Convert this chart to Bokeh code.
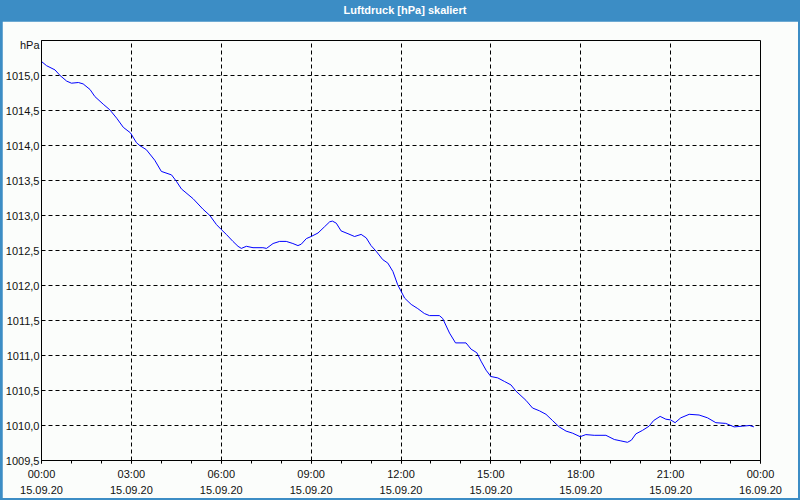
from bokeh.plotting import figure
from bokeh.models import FixedTicker, LinearAxis, Div, Column, Range1d, Grid
from bokeh.embed import file_html
from bokeh.resources import INLINE

# ---- data (hours after 15.09.20 00:00, pressure hPa) ----
hours = [0.0, 0.17, 0.45, 0.62, 0.84, 1.0, 1.23, 1.39, 1.62, 1.78, 2.06, 2.28, 2.51, 2.73, 2.97,
         3.17, 3.28, 3.5, 3.78, 4.0, 4.34, 4.5, 4.67, 5.06, 5.39, 5.62, 5.84, 6.0, 6.17, 6.39,
         6.56, 6.67, 6.84, 7.06, 7.39, 7.51, 7.73, 7.95, 8.17, 8.39, 8.56, 8.67, 8.84, 9.0,
         9.23, 9.45, 9.62, 9.71, 9.84, 10.0, 10.23, 10.45, 10.67, 10.84, 11.0, 11.17, 11.39,
         11.56, 11.73, 11.89, 12.0, 12.12, 12.34, 12.56, 12.78, 12.95, 13.28, 13.39, 13.62,
         13.82, 14.17, 14.34, 14.53, 14.67, 14.84, 15.0, 15.23, 15.45, 15.67, 15.84, 16.17,
         16.39, 16.62, 16.84, 17.06, 17.28, 17.51, 17.73, 17.98, 18.17, 18.45, 18.84, 19.12,
         19.34, 19.56, 19.69, 19.84, 20.06, 20.28, 20.43, 20.65, 20.84, 21.0, 21.15, 21.34,
         21.62, 21.95, 22.23, 22.51, 22.84, 23.12, 23.39, 23.64, 23.78]
pressure = [1015.20, 1015.14, 1015.08, 1015.00, 1014.92, 1014.89, 1014.90, 1014.88, 1014.80,
            1014.70, 1014.59, 1014.51, 1014.39, 1014.26, 1014.18, 1014.04, 1014.00, 1013.94,
            1013.79, 1013.63, 1013.58, 1013.49, 1013.38, 1013.24, 1013.09, 1013.00, 1012.87,
            1012.80, 1012.73, 1012.63, 1012.56, 1012.53, 1012.56, 1012.54, 1012.54, 1012.53,
            1012.60, 1012.63, 1012.63, 1012.60, 1012.57, 1012.59, 1012.67, 1012.70, 1012.75,
            1012.84, 1012.91, 1012.92, 1012.89, 1012.78, 1012.74, 1012.70, 1012.73, 1012.68,
            1012.57, 1012.49, 1012.37, 1012.32, 1012.20, 1012.01, 1011.92, 1011.82, 1011.73,
            1011.67, 1011.60, 1011.57, 1011.57, 1011.53, 1011.32, 1011.18, 1011.18, 1011.09,
            1011.04, 1010.92, 1010.79, 1010.70, 1010.68, 1010.63, 1010.58, 1010.49, 1010.36,
            1010.25, 1010.21, 1010.16, 1010.07, 1009.98, 1009.92, 1009.89, 1009.84, 1009.87,
            1009.86, 1009.86, 1009.80, 1009.78, 1009.76, 1009.79, 1009.88, 1009.93, 1009.99,
            1010.07, 1010.13, 1010.09, 1010.08, 1010.04, 1010.11, 1010.16, 1010.15, 1010.11,
            1010.04, 1010.03, 1009.98, 1009.99, 1010.00, 1009.98]

x_ticks = [0, 3, 6, 9, 12, 15, 18, 21, 24]
x_time_labels = ["00:00", "03:00", "06:00", "09:00", "12:00", "15:00", "18:00", "21:00", "00:00"]
x_date_labels = ["15.09.20"] * 8 + ["16.09.20"]
y_ticks = [1009.5, 1010.0, 1010.5, 1011.0, 1011.5, 1012.0, 1012.5, 1013.0, 1013.5, 1014.0,
           1014.5, 1015.0]
y_labels = ["1009,5", "1010,0", "1010,5", "1011,0", "1011,5", "1012,0", "1012,5", "1013,0",
            "1013,5", "1014,0", "1014,5", "1015,0"]
y_min, y_max = 1009.5, 1015.5
title_text = "Luftdruck [hPa] skaliert"
unit_text = "hPa"

FONT = "Liberation Sans"
BG = "#fbfdfb"
BLUE = "#3c8dc5"

p = figure(width=796, height=477, output_backend="svg", toolbar_location=None,
           x_range=Range1d(0, 24), y_range=Range1d(y_min, y_max),
           x_axis_location=None, y_axis_location=None,
           min_border_left=38, min_border_right=38, min_border_top=19, min_border_bottom=38,
           background_fill_color=BG, border_fill_color=BG, margin=(0, 2, 2, 2))
for g in p.grid:
    g.visible = False

p.outline_line_color = "black"
p.outline_line_width = 1

p.line(hours, pressure, line_color="#0000ff", line_width=1)

# axes
xt = FixedTicker(ticks=x_ticks, minor_ticks=list(range(0, 25)))
ax1 = LinearAxis(ticker=xt)
ax1.major_label_overrides = {t: s for t, s in zip(x_ticks, x_time_labels)}
ax2 = LinearAxis(ticker=FixedTicker(ticks=x_ticks))
ax2.major_label_overrides = {t: s for t, s in zip(x_ticks, x_date_labels)}
for ax in (ax1, ax2):
    ax.major_label_text_font = FONT
    ax.major_label_text_font_size = "11px"
    ax.major_label_text_color = "#111111"
ax1.axis_line_color = "black"
ax1.major_tick_out = 3
ax1.major_tick_in = 0
ax1.minor_tick_out = 3
ax1.minor_tick_in = 0
ax1.major_label_standoff = 4
ax2.axis_line_color = None
ax2.major_tick_line_color = None
ax2.minor_tick_line_color = None
ax2.major_tick_out = 0
ax2.major_tick_in = 0
ax2.minor_tick_out = 0
ax2.major_label_standoff = 3
p.add_layout(ax1, "below")
p.add_layout(ax2, "below")

# y axis: numeric labels plus the unit just below the top edge
unit_pos = y_max - 0.07
ay = LinearAxis(ticker=FixedTicker(ticks=y_ticks + [unit_pos]))
overrides = {t: s for t, s in zip(y_ticks, y_labels)}
overrides[unit_pos] = unit_text
ay.major_label_overrides = overrides
ay.major_label_text_font = FONT
ay.major_label_text_font_size = "11px"
ay.major_label_text_color = "#111111"
ay.major_tick_out = 0
ay.major_tick_in = 0
ay.major_tick_line_color = None
ay.minor_tick_line_color = None
ay.axis_line_color = "black"
ay.major_label_standoff = 2
p.add_layout(ay, "left")

# grids
gx = Grid(dimension=0, ticker=FixedTicker(ticks=x_ticks[1:-1]))
gy = Grid(dimension=1, ticker=FixedTicker(ticks=y_ticks[1:]))
for g in (gx, gy):
    g.grid_line_color = "black"
    g.grid_line_dash = "4 3"
    g.grid_line_width = 1
p.add_layout(gx, "center")
p.add_layout(gy, "center")

title = Div(text=title_text, width=800, height=21, margin=0,
            styles={"background-color": BLUE, "color": "white", "font-weight": "bold",
                    "font-family": FONT, "font-size": "11px", "text-align": "center",
                    "line-height": "21px", "padding-left": "10px", "box-sizing": "border-box"})

layout = Column(children=[title, p], spacing=0, styles={"background-color": BLUE})

open("out.html", "w").write(file_html(layout, INLINE))
